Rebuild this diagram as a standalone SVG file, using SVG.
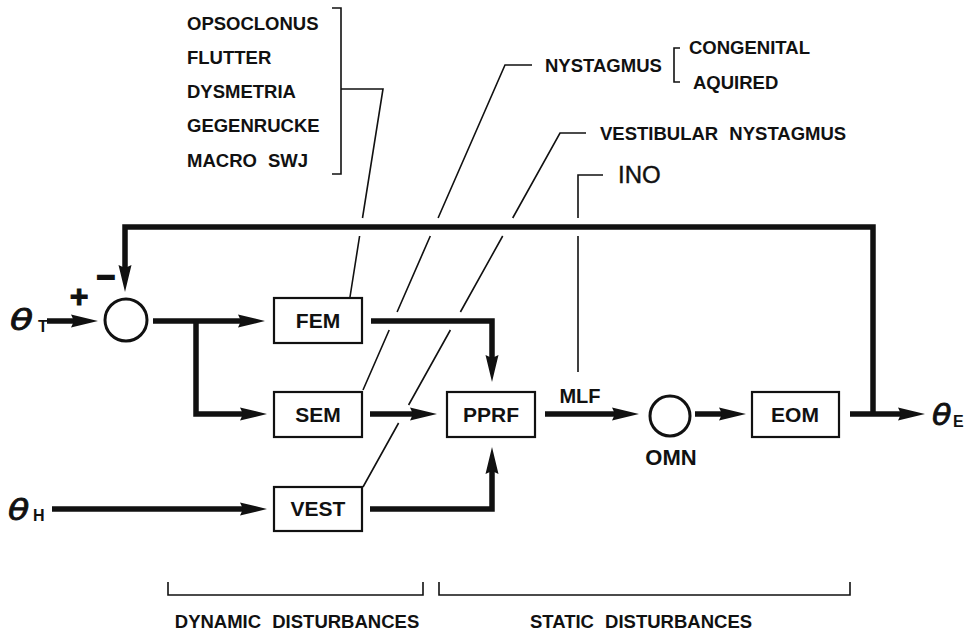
<svg xmlns="http://www.w3.org/2000/svg" width="967" height="635" viewBox="0 0 967 635">
<style>
  .lbl{font-family:"Liberation Sans",Arial,sans-serif;font-weight:bold;font-size:18.5px;fill:#111}
  .box{fill:#fff;stroke:#111;stroke-width:2.2}
  .boxt{font-family:"Liberation Sans",Arial,sans-serif;font-weight:bold;font-size:21px;fill:#111;text-anchor:middle}
  .arr{fill:none;stroke:#111;stroke-width:5.5;stroke-linejoin:miter;marker-end:url(#ah)}
  .thin{fill:none;stroke:#111;stroke-width:1.6}
  .th{font-family:"DejaVu Sans",sans-serif;font-style:italic;font-size:29px;fill:#111;stroke:#111;stroke-width:0.8}
  .sub{font-family:"Liberation Sans",Arial,sans-serif;font-weight:bold;font-size:16px;fill:#111}
</style>
<defs>
  <marker id="ah" markerUnits="userSpaceOnUse" markerWidth="40" markerHeight="20" viewBox="-8 -10 40 20" refX="0" refY="0" orient="auto" overflow="visible">
    <path d="M22,0 L-5,-6.5 L-2,0 L-5,6.5 Z" fill="#111"/>
  </marker>
</defs>
<rect width="967" height="635" fill="#fff"/>

<!-- annotation labels -->
<g id="labels-left">
  <text class="lbl" x="187" y="30">OPSOCLONUS</text>
  <text class="lbl" x="187" y="64">FLUTTER</text>
  <text class="lbl" x="187" y="98">DYSMETRIA</text>
  <text class="lbl" x="187" y="132">GEGENRUCKE</text>
  <text class="lbl" x="187" y="167" word-spacing="6">MACRO SWJ</text>
  <path class="thin" d="M332,8 H341 V174 H332 M341,89 H383 L362.5,218 M359.6,236 L350,297"/>
</g>
<g id="label-nystagmus">
  <text class="lbl" x="545" y="72">NYSTAGMUS</text>
  <path class="thin" d="M680,48 H674 V82 H680"/>
  <text class="lbl" x="689" y="54">CONGENITAL</text>
  <text class="lbl" x="693" y="89">AQUIRED</text>
  <path class="thin" d="M532,65 H505 L438.1,218 M430.3,236 L397.1,312 M389.2,330 L363,390"/>
</g>
<g id="label-vestibular">
  <text class="lbl" x="600" y="140" word-spacing="6">VESTIBULAR NYSTAGMUS</text>
  <path class="thin" d="M586,133 H560 L512.7,218 M502.7,236 L460.4,312 M450.4,330 L408.6,405 M398.6,423 L363,487"/>
</g>
<g id="label-ino">
  <text x="618" y="183" font-family="Liberation Sans,Arial,sans-serif" font-size="24" fill="#111" stroke="#111" stroke-width="0.4">INO</text>
  <path class="thin" d="M603,175 H578 V218 M578,236 V372"/>
</g>

<!-- connectors -->
<g id="connectors">
  <path class="arr" d="M873,414 V227 H125 V270"/>
  <path class="arr" d="M47,321 H76"/>
  <path class="arr" d="M153,321 H243"/>
  <path class="arr" d="M196,321 V414 H245"/>
  <path class="arr" d="M371,321 H492 V360"/>
  <path class="arr" d="M370,414 H415"/>
  <path class="arr" d="M370,509 H492 V469"/>
  <path class="arr" d="M52,509 H245"/>
  <path class="arr" d="M545,414 H617"/>
  <path class="arr" d="M695,414 H724"/>
  <path class="arr" d="M850,414 H903"/>
</g>

<!-- nodes -->
<g id="sum">
  <circle cx="126" cy="320" r="21" fill="#fff" stroke="#111" stroke-width="3"/>
  <text x="79" y="307" text-anchor="middle" font-family="Liberation Sans,Arial,sans-serif" font-weight="bold" font-size="32" fill="#111" stroke="#111" stroke-width="1">+</text>
  <text x="106" y="288" text-anchor="middle" font-family="Liberation Sans,Arial,sans-serif" font-weight="bold" font-size="32" fill="#111" stroke="#111" stroke-width="1.8">−</text>
</g>
<g id="theta-t"><text class="th" transform="translate(10,330) scale(1.3,1)">θ</text><text class="sub" x="38" y="332">T</text></g>
<g id="theta-h"><text class="th" transform="translate(8,520) scale(1.2,1)">θ</text><text class="sub" x="33" y="521">H</text></g>
<g id="theta-e"><text class="th" transform="translate(932,425) scale(1.1,1)">θ</text><text class="sub" x="953" y="427">E</text></g>
<g id="fem"><rect class="box" x="274" y="298" width="88" height="45"/><text class="boxt" x="318" y="328">FEM</text></g>
<g id="sem"><rect class="box" x="274" y="392" width="88" height="45"/><text class="boxt" x="318" y="422">SEM</text></g>
<g id="vest"><rect class="box" x="274" y="487" width="88" height="44"/><text class="boxt" x="318" y="516">VEST</text></g>
<g id="pprf"><rect class="box" x="447" y="392" width="88" height="45"/><text class="boxt" x="491" y="422">PPRF</text></g>
<g id="omn">
  <circle cx="670" cy="416" r="20" fill="#fff" stroke="#111" stroke-width="3"/>
  <text x="671" y="465" text-anchor="middle" font-family="Liberation Sans,Arial,sans-serif" font-weight="bold" font-size="22" fill="#111">OMN</text>
</g>
<g id="mlf"><text x="580" y="403" text-anchor="middle" font-family="Liberation Sans,Arial,sans-serif" font-weight="bold" font-size="20" fill="#111">MLF</text></g>
<g id="eom"><rect class="box" x="752" y="392" width="87" height="45"/><text class="boxt" x="795" y="422">EOM</text></g>

<!-- bottom brackets -->
<g id="dynamic">
  <path class="thin" d="M168,582 V595 H423 V582"/>
  <text class="lbl" x="297" y="628" text-anchor="middle" word-spacing="6">DYNAMIC DISTURBANCES</text>
</g>
<g id="static">
  <path class="thin" d="M439,582 V595 H850 V582"/>
  <text class="lbl" x="641" y="628" text-anchor="middle" word-spacing="6">STATIC DISTURBANCES</text>
</g>
</svg>
